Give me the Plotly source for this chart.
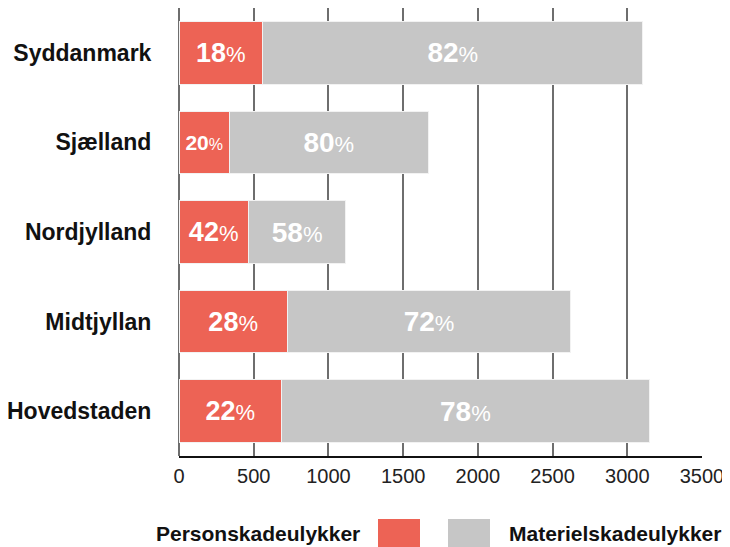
import plotly.graph_objects as go

regions = ["Syddanmark", "Sjælland", "Nordjylland", "Midtjyllan", "Hovedstaden"]
person = [560, 337, 464, 725, 687]
materiel = [2544, 1331, 653, 1897, 2459]
person_pct = [18, 20, 42, 28, 22]
materiel_pct = [82, 80, 58, 72, 78]
x_ticks = [0, 500, 1000, 1500, 2000, 2500, 3000, 3500]
series_names = ["Personskadeulykker", "Materielskadeulykker"]

RED = "#ED6355"
GRAY = "#C6C6C6"
FONT = "Liberation Sans, Arial, sans-serif"


def label(p, small=False):
    if small:
        return (f"<span style='font-size:21px'><b>{p}</b></span>"
                f"<span style='font-size:16px'>%</span>")
    return f"<b>{p}</b><span style='font-size:22px'>%</span>"


person_text = [label(p, small=(v < 400)) for p, v in zip(person_pct, person)]
materiel_text = [label(p) for p in materiel_pct]

fig = go.Figure()
fig.add_trace(go.Bar(
    y=regions, x=person, orientation="h", name=series_names[0],
    marker=dict(color=RED, line=dict(color="#F2F2F2", width=1)),
    text=person_text, textposition="inside", insidetextanchor="middle",
    textfont=dict(color="white", size=27, family=FONT),
    showlegend=False, hoverinfo="x+y",
))
fig.add_trace(go.Bar(
    y=regions, x=materiel, orientation="h", name=series_names[1],
    marker=dict(color=GRAY, line=dict(color="#F2F2F2", width=1)),
    text=materiel_text, textposition="inside", insidetextanchor="middle",
    textfont=dict(color="white", size=28, family=FONT),
    showlegend=False, hoverinfo="x+y",
))

# plot area in page pixels (page has an 8px body margin)
x0, x1 = 179, 702
y0, y1 = 456, 8
def px(x):
    return (x - x0) / (x1 - x0)
def py(y):
    return (y0 - y) / (y0 - y1)

fig.add_shape(type="rect", xref="paper", yref="paper",
              x0=px(378), x1=px(420), y0=py(519), y1=py(556),
              fillcolor=RED, line=dict(width=0))
fig.add_shape(type="rect", xref="paper", yref="paper",
              x0=px(448), x1=px(490), y0=py(519), y1=py(556),
              fillcolor=GRAY, line=dict(width=0))
fig.add_annotation(xref="paper", yref="paper", x=px(362), y=py(533),
                   xanchor="right", yanchor="middle", showarrow=False,
                   text=f"<b>{series_names[0]}</b>",
                   font=dict(size=21, color="#111", family=FONT))
fig.add_annotation(xref="paper", yref="paper", x=px(507), y=py(533),
                   xanchor="left", yanchor="middle", showarrow=False,
                   text=f"<b>{series_names[1]}</b>",
                   font=dict(size=21, color="#111", family=FONT))

W, H = 730, 547
fig.update_layout(
    width=W, height=H,
    margin=dict(l=x0 - 8, r=W - (x1 - 8), t=y1 - 8, b=H - (y0 - 8), autoexpand=False),
    barmode="stack", bargap=0.3,
    plot_bgcolor="white", paper_bgcolor="white",
    font=dict(family=FONT, color="#111"),
)
fig.update_xaxes(
    range=[0, 3500], tickvals=x_ticks, ticktext=[str(t) for t in x_ticks],
    showgrid=True, gridcolor="#6E6E6E", gridwidth=1.5,
    zeroline=True, zerolinecolor="#6E6E6E", zerolinewidth=1.5,
    showline=True, linecolor="#111", linewidth=2,
    ticks="outside", ticklen=1, tickcolor="rgba(0,0,0,0)",
    tickfont=dict(size=20, color="#222", family=FONT),
    automargin=False,
)
fig.update_yaxes(
    autorange="reversed", showgrid=False, zeroline=False, showline=False,
    ticks="outside", ticklen=22, tickcolor="rgba(0,0,0,0)",
    tickfont=dict(size=23, color="#111", family=FONT),
    tickprefix="<b>", ticksuffix="</b>",
    automargin=False,
)

fig.write_html("out.html")
